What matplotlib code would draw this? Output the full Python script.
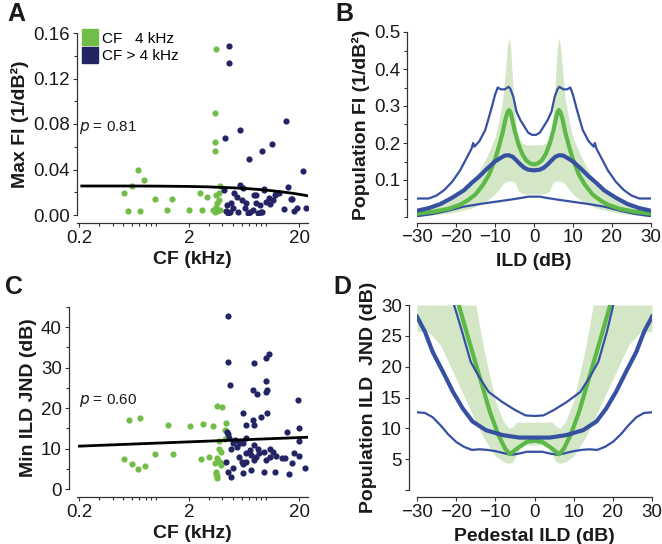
import numpy as np
import matplotlib
matplotlib.use("Agg")
import matplotlib.pyplot as plt
from matplotlib.lines import Line2D
from matplotlib.ticker import FixedLocator, LogLocator, NullFormatter, MultipleLocator

plt.rcParams['font.family'] = ['Liberation Sans', 'DejaVu Sans']

# ---------------- Panel A data ----------------
a_green_cf = [3.48, 3.4, 3.4, 3.45, 0.68, 0.78, 0.6, 0.51, 0.55, 0.71, 0.97, 1.38, 1.24, 2.0, 2.6,
              2.49, 2.9, 3.3, 3.46, 3.7, 3.8, 3.6, 3.5, 3.6, 3.4, 3.8, 3.7]
a_green_fi = [0.146, 0.090, 0.0645, 0.0566, 0.0396, 0.031, 0.0255, 0.019, 0.0035, 0.0035, 0.014, 0.014,
              0.0044, 0.0044, 0.0044, 0.019, 0.016, 0.0044, 0.0176, 0.019, 0.0255, 0.0103, 0.0073,
              0.0035, 0.003, 0.0044, 0.013]
a_navy_cf = [4.6, 4.6, 4.2, 5.8, 15.1, 11.2, 9.1, 7.0, 21.7, 15.9, 17.2, 14.4, 18.0, 23.0,
             4.1, 4.3, 4.4, 4.8, 5.4, 5.8, 6.1, 6.0, 6.6, 6.4, 7.1, 7.6, 7.8, 8.1, 9.2, 9.6, 10.0,
             10.7, 11.9, 13.2, 16.8, 19.0, 5.1, 4.7, 8.8, 11.5, 8.1, 9.6, 12.3, 10.9, 8.5, 5.0,
             6.8, 9.0, 4.5, 5.5]
a_navy_fi = [0.149, 0.134, 0.068, 0.075, 0.083, 0.0625, 0.0566, 0.049, 0.039, 0.025, 0.0138, 0.0053,
             0.0038, 0.0064, 0.022, 0.0035, 0.0088, 0.0103, 0.016, 0.026, 0.0235, 0.013, 0.0103,
             0.0059, 0.003, 0.0044, 0.0176, 0.0103, 0.0024, 0.022, 0.0117, 0.0147, 0.0176, 0.019,
             0.0138, 0.0059, 0.019, 0.003, 0.0088, 0.013, 0.0176, 0.023, 0.019, 0.0097, 0.002,
             0.0065, 0.002, 0.003, 0.0015, 0.0025]
a_fit_cf = [0.21, 0.5, 1.0, 2.0, 3.0, 5.0, 7.0, 10.0, 14.0, 18.0, 22.0, 26.0]
a_fit_fi = [0.0255, 0.0255, 0.0254, 0.0251, 0.0247, 0.0239, 0.0231, 0.0219, 0.0203, 0.0189, 0.0175, 0.0162]

# ---------------- Panel C data ----------------
c_green_cf = [0.56, 0.71, 1.27, 2.04, 2.67, 3.3, 3.6, 4.0, 4.3, 4.2, 0.51, 0.6, 0.68, 0.79, 0.98,
              1.42, 2.57, 3.0, 3.6, 3.7, 3.9, 3.8, 3.9, 3.5, 3.6, 3.6, 3.5, 4.2, 3.45, 3.75]
c_green_jnd = [17.0, 17.5, 15.8, 15.5, 16.0, 15.6, 20.5, 20.3, 16.2, 14.6, 7.4, 6.3, 5.0, 5.7, 8.6,
               8.6, 7.3, 8.0, 7.6, 9.8, 9.2, 6.7, 5.9, 4.3, 3.2, 2.6, 3.7, 12.3, 6.5, 11.8]
c_navy_cf = [4.45, 4.5, 7.8, 9.9, 10.6, 4.7, 9.9, 10.2, 9.9, 7.6, 8.3, 19.6, 6.1, 7.6, 9.0, 10.2,
             7.8, 6.5, 19.9, 15.6, 19.7, 4.5, 4.6, 5.0, 5.6, 6.1, 6.6, 4.8, 5.4, 5.8, 6.6, 7.1, 7.8,
             8.5, 8.6, 9.6, 10.8, 11.5, 12.3, 13.8, 14.7, 17.0, 22.4, 4.3, 4.5, 4.8, 5.6, 6.0, 6.2,
             6.6, 6.1, 7.3, 9.5, 11.9, 16.2, 19.7, 18.0, 10.8, 10.0, 8.1, 7.7, 7.3, 5.0, 4.4, 5.2]
c_navy_jnd = [42.7, 31.3, 31.1, 32.3, 33.3, 25.7, 26.7, 24.6, 23.9, 24.4, 23.5, 21.9, 18.7, 17.0,
              17.9, 18.9, 15.8, 15.8, 15.1, 14.0, 11.9, 13.7, 12.5, 11.3, 11.7, 11.3, 12.7, 10.0,
              10.4, 11.3, 8.8, 9.6, 10.9, 10.0, 8.8, 9.2, 10.0, 9.2, 8.1, 7.6, 7.6, 6.5, 5.1, 6.7,
              4.3, 2.9, 8.0, 6.7, 6.2, 6.7, 4.0, 4.7, 4.3, 4.3, 3.6, 8.1, 8.8, 8.0, 7.2, 8.0, 7.2,
              8.4, 5.1, 14.2, 12.0]
c_fit_cf = [0.2, 24.0]
c_fit_jnd = [10.6, 12.8]

# ---------------- Panel B data ----------------
b_up_x = [-30, -27, -25, -23, -21, -19, -17, -16, -15.6, -15.3, -14, -12.5, -11, -10, -9.3, -8.5,
          -7.5, -6.5, -6, -5.3, -4.5, -3.5, -2.5, -1.5, -0.5, 0.5, 1.5, 2.5, 3.5, 4.5, 5.3, 6,
          6.5, 7.5, 8.5, 9.3, 10, 11, 12.5, 14, 15.3, 15.6, 16, 17, 19, 21, 23, 25, 27, 30]
b_up_y = [0.050, 0.050, 0.058, 0.073, 0.095, 0.125, 0.165, 0.185, 0.200, 0.190, 0.205, 0.235,
          0.290, 0.330, 0.350, 0.345, 0.345, 0.352, 0.345, 0.325, 0.285, 0.262, 0.245, 0.228,
          0.222, 0.222, 0.228, 0.245, 0.262, 0.285, 0.325, 0.345, 0.352, 0.345, 0.345, 0.350,
          0.330, 0.290, 0.235, 0.205, 0.190, 0.200, 0.185, 0.165, 0.125, 0.095, 0.073, 0.058,
          0.050, 0.050]
b_mid_x = [-30, -27, -24, -21, -18, -16, -14, -12, -10, -8.5, -7.5, -6.5, -5.5, -4.5, -3.5, -2.5,
           -1.5, 0, 1.5, 2.5, 3.5, 4.5, 5.5, 6.5, 7.5, 8.5, 10, 12, 14, 16, 18, 21, 24, 27, 30]
b_mid_y = [0.017, 0.024, 0.035, 0.052, 0.072, 0.092, 0.110, 0.131, 0.150, 0.160, 0.166, 0.167,
           0.163, 0.153, 0.142, 0.133, 0.128, 0.126, 0.128, 0.133, 0.142, 0.153, 0.163, 0.167,
           0.166, 0.160, 0.150, 0.131, 0.110, 0.092, 0.072, 0.052, 0.035, 0.024, 0.017]
b_low_x = [-30, -26, -22, -18, -14, -10, -6, -3, -1.5, 0, 1.5, 3, 6, 10, 14, 18, 22, 26, 30]
b_low_y = [0.002, 0.008, 0.017, 0.028, 0.035, 0.041, 0.047, 0.052, 0.055, 0.055, 0.055, 0.052,
           0.047, 0.041, 0.035, 0.028, 0.017, 0.008, 0.002]
b_grn_x = [-30, -26, -22, -19, -17, -15, -13, -11.5, -10, -9, -8, -7.3, -6.8, -6.4, -6, -5.5, -5,
           -4, -3, -2, -1, 0, 1, 2, 3, 4, 5, 5.5, 6, 6.4, 6.8, 7.3, 8, 9, 10, 11.5, 13, 15, 17,
           19, 22, 26, 30]
b_grn_y = [0.009, 0.014, 0.022, 0.033, 0.045, 0.061, 0.088, 0.115, 0.155, 0.190, 0.230, 0.265,
           0.283, 0.289, 0.283, 0.260, 0.235, 0.197, 0.170, 0.153, 0.145, 0.142, 0.145, 0.153,
           0.170, 0.197, 0.235, 0.260, 0.283, 0.289, 0.283, 0.265, 0.230, 0.190, 0.155, 0.115,
           0.088, 0.061, 0.045, 0.033, 0.022, 0.014, 0.009]
b_band_x = [-30, -26, -22, -19, -16, -14, -12, -10, -9, -8, -7.3, -6.8, -6.4, -6, -5.5, -5, -4.5,
            -4, -3, -2, -1, 0, 1, 2, 3, 4, 4.5, 5, 5.5, 6, 6.4, 6.8, 7.3, 8, 9, 10, 12, 14, 16,
            19, 22, 26, 30]
b_band_hi = [0.022, 0.032, 0.048, 0.066, 0.095, 0.125, 0.165, 0.215, 0.260, 0.320, 0.400, 0.460,
             0.485, 0.460, 0.370, 0.290, 0.240, 0.215, 0.200, 0.195, 0.195, 0.195, 0.195, 0.195,
             0.200, 0.215, 0.240, 0.290, 0.370, 0.460, 0.485, 0.460, 0.400, 0.320, 0.260, 0.215,
             0.165, 0.125, 0.095, 0.066, 0.048, 0.032, 0.022]
b_band_lo = [0.004, 0.006, 0.010, 0.016, 0.024, 0.033, 0.045, 0.062, 0.075, 0.088, 0.095, 0.097,
             0.097, 0.097, 0.097, 0.094, 0.085, 0.070, 0.064, 0.062, 0.062, 0.062, 0.062, 0.062,
             0.064, 0.070, 0.085, 0.094, 0.097, 0.097, 0.097, 0.097, 0.095, 0.088, 0.075, 0.062,
             0.045, 0.033, 0.024, 0.016, 0.010, 0.006, 0.004]

# ---------------- Panel D data ----------------
d_mid_x = [-30, -28, -26, -23.4, -20.8, -18.3, -15.8, -12.4, -8.1, -3.9, 0, 3.9, 8.1, 12.4, 15.8,
           18.3, 20.8, 23.4, 26, 28, 30]
d_mid_y = [28.1, 25.7, 22.4, 19.2, 15.9, 13.2, 11.1, 9.7, 8.9, 8.5, 8.5, 8.5, 8.9, 9.7, 11.1,
           13.2, 15.9, 19.2, 22.4, 25.7, 28.1]
d_up_x = [-21.0, -18.5, -16.3, -14.2, -11.7, -8.3, -4.9, -2.3, 0, 2.3, 4.9, 8.3, 11.7, 14.2,
          16.3, 18.5, 20.5]
d_up_y = [31.0, 25.7, 20.8, 18.4, 15.9, 14.3, 12.95, 12.1, 12.0, 12.1, 12.95, 14.3, 15.9, 18.4,
          20.8, 25.7, 31.0]
d_low_x = [-30, -28, -26, -24, -22, -20, -18, -16, -14, -12, -10, -8, -6, -4, -2, 0, 2, 4, 6, 8,
           10, 12, 14, 16, 18, 20, 22, 24, 26, 28, 30]
d_low_y = [12.6, 12.5, 11.8, 10.5, 9.0, 7.8, 7.0, 6.5, 6.6, 6.5, 6.3, 6.0, 5.7, 5.9, 6.2, 6.2,
           6.2, 5.9, 5.7, 6.0, 6.3, 6.5, 6.6, 6.5, 7.0, 7.8, 9.0, 10.5, 11.8, 12.5, 12.6]
d_grn_x = [-20.0, -16.9, -13.9, -11.4, -9.2, -7.5, -6.3, -4.5, -2.0, 0, 2.0, 4.5, 6.3, 7.5, 9.2,
           11.4, 13.9, 16.9, 20.0]
d_grn_y = [31.5, 24.6, 18.1, 12.7, 8.9, 6.7, 5.8, 6.7, 7.8, 8.0, 7.8, 6.7, 5.8, 6.7, 8.9, 12.7,
           18.1, 24.6, 31.5]
d_band_x = [-30, -27, -24, -20, -16, -15, -13, -10, -8, -6.5, -5.5, -4.5, -3.5, -2, 0, 2, 3.5,
            4.5, 5.5, 6.5, 8, 10, 13, 15, 16, 20, 24, 27, 30]
d_band_hi = [30, 30, 30, 30, 30, 30, 23, 14.5, 11.2, 10.0, 10.3, 11.0, 11.0, 11.0, 11.0, 11.0,
             11.0, 11.0, 10.3, 10.0, 11.2, 14.5, 23, 30, 30, 30, 30, 30, 30]
d_band_lo = [25.7, 25.6, 23.5, 18.0, 12.5, 11.0, 8.5, 5.5, 4.6, 4.3, 4.6, 5.8, 7.0, 7.3, 7.3,
             7.3, 7.0, 5.8, 4.6, 4.3, 4.6, 5.5, 8.5, 11.0, 12.5, 18.0, 23.5, 25.6, 25.7]

# ---------------- styles ----------------
GREEN_DOT = '#72bd47'
NAVY_DOT = '#222463'
BLUE = '#3651a2'
GREEN_LINE = '#5cb847'
BAND = '#d3e7c7'
TXT = '#1a1a1a'

W, H = 662, 544
fig = plt.figure(figsize=(W / 100, H / 100), dpi=100)


def fax(l, t, r, b):
    return fig.add_axes([l / W, 1 - b / H, (r - l) / W, (b - t) / H])


def style(ax):
    for s in ['top', 'right']:
        ax.spines[s].set_visible(False)
    for s in ['left', 'bottom']:
        ax.spines[s].set_linewidth(0.9)
        ax.spines[s].set_color('#333333')
    ax.tick_params(which='both', direction='out', width=0.8, colors='#333333',
                   labelcolor=TXT, labelsize=13.5, pad=2)
    ax.tick_params(which='major', length=3)
    ax.tick_params(which='minor', length=2.5)
    ax.patch.set_alpha(0)


LBL = dict(fontsize=14, fontweight='bold', color=TXT)
DOT = 20

# ---- A ----
axA = fax(77, 33, 308, 215)
style(axA)
axA.scatter(a_green_cf, a_green_fi, s=DOT, color=GREEN_DOT, linewidths=0, zorder=3)
axA.scatter(a_navy_cf, a_navy_fi, s=DOT, color=NAVY_DOT, linewidths=0, zorder=3)
axA.plot(a_fit_cf, a_fit_fi, color='black', lw=2, zorder=4)
axA.set_xscale('log')
axA.set_xlim(0.19, 24)
axA.set_ylim(0, 0.16)
axA.spines['bottom'].set_position(('outward', 6))
axA.xaxis.set_major_locator(FixedLocator([0.2, 2, 20]))
axA.set_xticklabels(['0.2', '2', '20'])
axA.xaxis.set_minor_locator(LogLocator(base=10, subs=np.arange(1, 10)))
axA.xaxis.set_minor_formatter(NullFormatter())
axA.set_yticks([0, 0.04, 0.08, 0.12, 0.16])
axA.set_yticklabels(['0.00', '0.04', '0.08', '0.12', '0.16'])
axA.yaxis.set_minor_locator(MultipleLocator(0.02))
axA.set_xlabel('CF (kHz)', labelpad=3, **LBL)
axA.set_ylabel('Max FI (1/dB²)', labelpad=3, **LBL)
axA.text(0.2, 0.077, r'$p$ = 0.81', fontsize=11, color=TXT, va='center', ha='left')
handles = [Line2D([], [], marker='s', ls='none', color=GREEN_DOT, markersize=11),
           Line2D([], [], marker='s', ls='none', color=NAVY_DOT, markersize=11)]
axA.legend(handles, ['CF   4 kHz', 'CF > 4 kHz'], loc='upper left', bbox_to_anchor=(-0.01, 1.05),
           frameon=False, fontsize=11, handlelength=1.0, handletextpad=0.3, borderpad=0,
           labelspacing=0.25)

# ---- B ----
axB = fax(417, 32, 651, 217)
style(axB)
axB.fill_between(b_band_x, b_band_lo, b_band_hi, color=BAND, lw=0, zorder=1)
axB.plot(b_low_x, b_low_y, color=BLUE, lw=1.6, zorder=3)
axB.plot(b_mid_x, b_mid_y, color=BLUE, lw=3.0, zorder=4)
axB.plot(b_grn_x, b_grn_y, color=GREEN_LINE, lw=3.0, zorder=3)
axB.plot(b_up_x, b_up_y, color=BLUE, lw=1.6, zorder=3)
axB.set_xlim(-30, 30)
axB.set_ylim(0, 0.5)
axB.spines['bottom'].set_position(('outward', 4))
axB.spines['left'].set_position(('outward', 7))
axB.set_xticks([-30, -20, -10, 0, 10, 20, 30])
axB.set_xticklabels(['\u221230', '\u221220', '\u221210', '0', '10', '20', '30'])
axB.set_yticks([0.1, 0.2, 0.3, 0.4, 0.5])
axB.set_yticklabels(['0.1', '0.2', '0.3', '0.4', '0.5'])
axB.yaxis.set_minor_locator(MultipleLocator(0.05))
axB.set_xlabel('ILD (dB)', labelpad=5, **LBL)
axB.set_ylabel('Population FI (1/dB²)', labelpad=3, **LBL)

# ---- C ----
axC = fax(77, 307, 308, 489)
style(axC)
axC.scatter(c_green_cf, c_green_jnd, s=DOT, color=GREEN_DOT, linewidths=0, zorder=3)
axC.scatter(c_navy_cf, c_navy_jnd, s=DOT, color=NAVY_DOT, linewidths=0, zorder=3)
axC.plot(c_fit_cf, c_fit_jnd, color='black', lw=2, zorder=4)
axC.set_xscale('log')
axC.set_xlim(0.19, 24)
axC.set_ylim(0, 45)
axC.spines['bottom'].set_position(('outward', 6))
axC.spines['left'].set_position(('outward', 6))
axC.spines['left'].set_bounds(0, 45)
axC.xaxis.set_major_locator(FixedLocator([0.2, 2, 20]))
axC.set_xticklabels(['0.2', '2', '20'])
axC.xaxis.set_minor_locator(LogLocator(base=10, subs=np.arange(1, 10)))
axC.xaxis.set_minor_formatter(NullFormatter())
axC.set_yticks([0, 10, 20, 30, 40])
axC.yaxis.set_minor_locator(MultipleLocator(5))
axC.set_xlabel('CF (kHz)', labelpad=3, **LBL)
axC.set_ylabel('Min ILD JND (dB)', labelpad=3, **LBL)
axC.text(0.2, 22, r'$p$ = 0.60', fontsize=11, color=TXT, va='center', ha='left')

# ---- D ----
axD = fax(417, 305, 652, 490)
style(axD)
axD.fill_between(d_band_x, d_band_lo, d_band_hi, color=BAND, lw=0, zorder=1)
axD.plot(d_low_x, d_low_y, color=BLUE, lw=1.6, zorder=3)
axD.plot(d_grn_x, d_grn_y, color=GREEN_LINE, lw=3.0, zorder=3)
axD.plot(d_mid_x, d_mid_y, color=BLUE, lw=3.0, zorder=4)
axD.plot(d_up_x, d_up_y, color=BLUE, lw=1.6, zorder=4)
axD.set_xlim(-30, 30)
axD.set_ylim(0, 30)
axD.spines['bottom'].set_position(('outward', 5))
axD.spines['left'].set_position(('outward', 6))
axD.set_xticks([-30, -20, -10, 0, 10, 20, 30])
axD.set_xticklabels(['\u221230', '\u221220', '\u221210', '0', '10', '20', '30'])
axD.set_yticks([0, 5, 10, 15, 20, 25, 30])
axD.set_yticklabels(['', '5', '10', '15', '20', '25', '30'])
axD.set_xlabel('Pedestal ILD (dB)', labelpad=5, **LBL)
axD.set_ylabel('Population ILD  JND (dB)', labelpad=3, **LBL)

# panel letters
for lab, x, y in [('A', 7, 2), ('B', 335, 2), ('C', 5, 275), ('D', 333, 275)]:
    fig.text(x / W, 1 - y / H, lab, fontsize=18, fontweight='bold', va='top', ha='left', color=TXT)

fig.savefig('out.png', dpi=100)
